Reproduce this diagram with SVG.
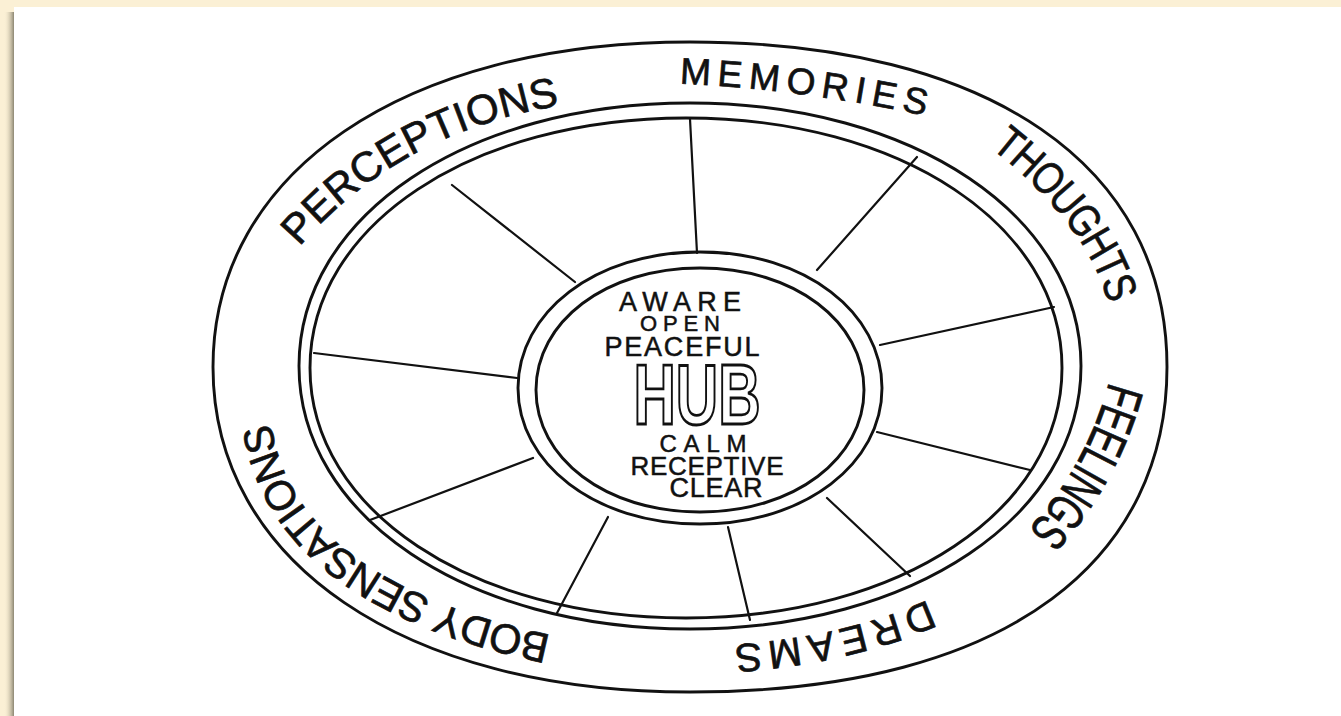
<svg xmlns="http://www.w3.org/2000/svg" width="1341" height="716" viewBox="0 0 1341 716">
<style>
.line{fill:none;stroke:#111;stroke-width:2.9;stroke-linecap:round;stroke-linejoin:round}
.spoke{fill:none;stroke:#111;stroke-width:2.2;stroke-linecap:round}
.lbl{font-family:"Liberation Sans Narrow","Liberation Sans",Arial,sans-serif;fill:#111;stroke:#111;stroke-width:0.7;text-anchor:middle}
.hub{font-family:"Liberation Sans",Arial,sans-serif;fill:#111;stroke:#111;stroke-width:0.5;text-anchor:middle}
.big{font-family:"Liberation Sans",Arial,sans-serif;font-weight:bold;fill:#fff;stroke:#111;stroke-width:2.8;text-anchor:middle}
</style>
<defs>
<linearGradient id="shadow" x1="0" x2="1" y1="0" y2="0">
<stop offset="0" stop-color="#fbf0d5" stop-opacity="0"/>
<stop offset="1" stop-color="#8c8672"/>
</linearGradient>
<path id="p-body" d="M556,651 Q274.5,593.5 256,418"/>
<path id="p-perc" d="M288,238 Q389,119.5 558,91"/>
<path id="p-mem" d="M678,71 Q802,76.5 930,104"/>
<path id="p-thou" d="M998,134 Q1102,215 1124,302"/>
<path id="p-feel" d="M1127,385 Q1102.5,476 1040,543"/>
<path id="p-drea" d="M935,612 Q850,650.5 733,659"/>
</defs>
<rect width="1341" height="716" fill="#fbf0d5"/>
<rect x="4" y="12" width="10" height="704" fill="url(#shadow)"/>
<rect x="14" y="7" width="1327" height="709" fill="#fff"/>

<g id="wheel">
<path class="line" d="M690,42 C990,42 1167,166 1167,367 C1167,552 1019,692 690,692 C404,692 213,562 213,367 C213,172 404,42 690,42 Z"/>
<path class="line" d="M690,103 C913,103 1081,216 1081,366 C1081,516 913,629 690,629 C467,629 299,516 299,366 C299,216 467,103 690,103 Z"/>
<path class="line" d="M686,118 C900,118 1062,225 1062,368 C1062,510 900,618 686,618 C472,618 310,510 310,368 C310,225 472,118 686,118 Z"/>
</g>

<g id="spokes">
<line class="spoke" x1="690" y1="119" x2="697" y2="253"/>
<line class="spoke" x1="917" y1="157" x2="817" y2="270"/>
<line class="spoke" x1="1054" y1="307" x2="880" y2="345"/>
<line class="spoke" x1="1030" y1="470" x2="877" y2="432"/>
<line class="spoke" x1="910" y1="576" x2="827" y2="498"/>
<line class="spoke" x1="750" y1="620" x2="728" y2="527"/>
<line class="spoke" x1="557" y1="613" x2="608" y2="517"/>
<line class="spoke" x1="370" y1="520" x2="533" y2="458"/>
<line class="spoke" x1="314" y1="353" x2="517" y2="378"/>
<line class="spoke" x1="452" y1="185" x2="575" y2="282"/>
</g>

<g id="hub">
<path class="line" d="M700,252 C806,252 882,313 882,388 C882,463 806,524 700,524 C594,524 518,463 518,388 C518,313 594,252 700,252 Z"/>
<path class="line" d="M700,268 C795,268 864,322 864,390 C864,458 795,512 700,512 C605,512 536,458 536,390 C536,322 605,268 700,268 Z"/>
<text class="hub" x="680" y="311" font-size="27" textLength="122" lengthAdjust="spacing">AWARE</text>
<text class="hub" x="680" y="331" font-size="22" textLength="80" lengthAdjust="spacing">OPEN</text>
<text class="hub" x="682" y="356" font-size="27" textLength="155" lengthAdjust="spacing">PEACEFUL</text>
<text class="big" x="697" y="424" font-size="86" textLength="127" lengthAdjust="spacingAndGlyphs">HUB</text>
<text class="hub" x="703" y="452" font-size="24" textLength="87" lengthAdjust="spacing">CALM</text>
<text class="hub" x="707" y="475" font-size="26" textLength="153" lengthAdjust="spacing">RECEPTIVE</text>
<text class="hub" x="716" y="497" font-size="27" textLength="93" lengthAdjust="spacing">CLEAR</text>
</g>

<g id="label-body-sensations">
<text class="lbl" font-size="42"><textPath href="#p-body" startOffset="50%" textLength="392" lengthAdjust="spacingAndGlyphs" dominant-baseline="central">BODY SENSATIONS</textPath></text>
</g>
<g id="label-perceptions">
<text class="lbl" font-size="42"><textPath href="#p-perc" startOffset="50%" textLength="312" lengthAdjust="spacing" dominant-baseline="central">PERCEPTIONS</textPath></text>
</g>
<g id="label-memories">
<text class="lbl" font-size="37"><textPath href="#p-mem" startOffset="50%" textLength="250" lengthAdjust="spacing" dominant-baseline="central">MEMORIES</textPath></text>
</g>
<g id="label-thoughts">
<text class="lbl" font-size="45"><textPath href="#p-thou" startOffset="50%" textLength="208" lengthAdjust="spacingAndGlyphs" dominant-baseline="central">THOUGHTS</textPath></text>
</g>
<g id="label-feelings">
<text class="lbl" font-size="52"><textPath href="#p-feel" startOffset="50%" textLength="178" lengthAdjust="spacingAndGlyphs" dominant-baseline="central">FEELINGS</textPath></text>
</g>
<g id="label-dreams">
<text class="lbl" font-size="40"><textPath href="#p-drea" startOffset="50%" textLength="204" lengthAdjust="spacing" dominant-baseline="central">DREAMS</textPath></text>
</g>
</svg>
